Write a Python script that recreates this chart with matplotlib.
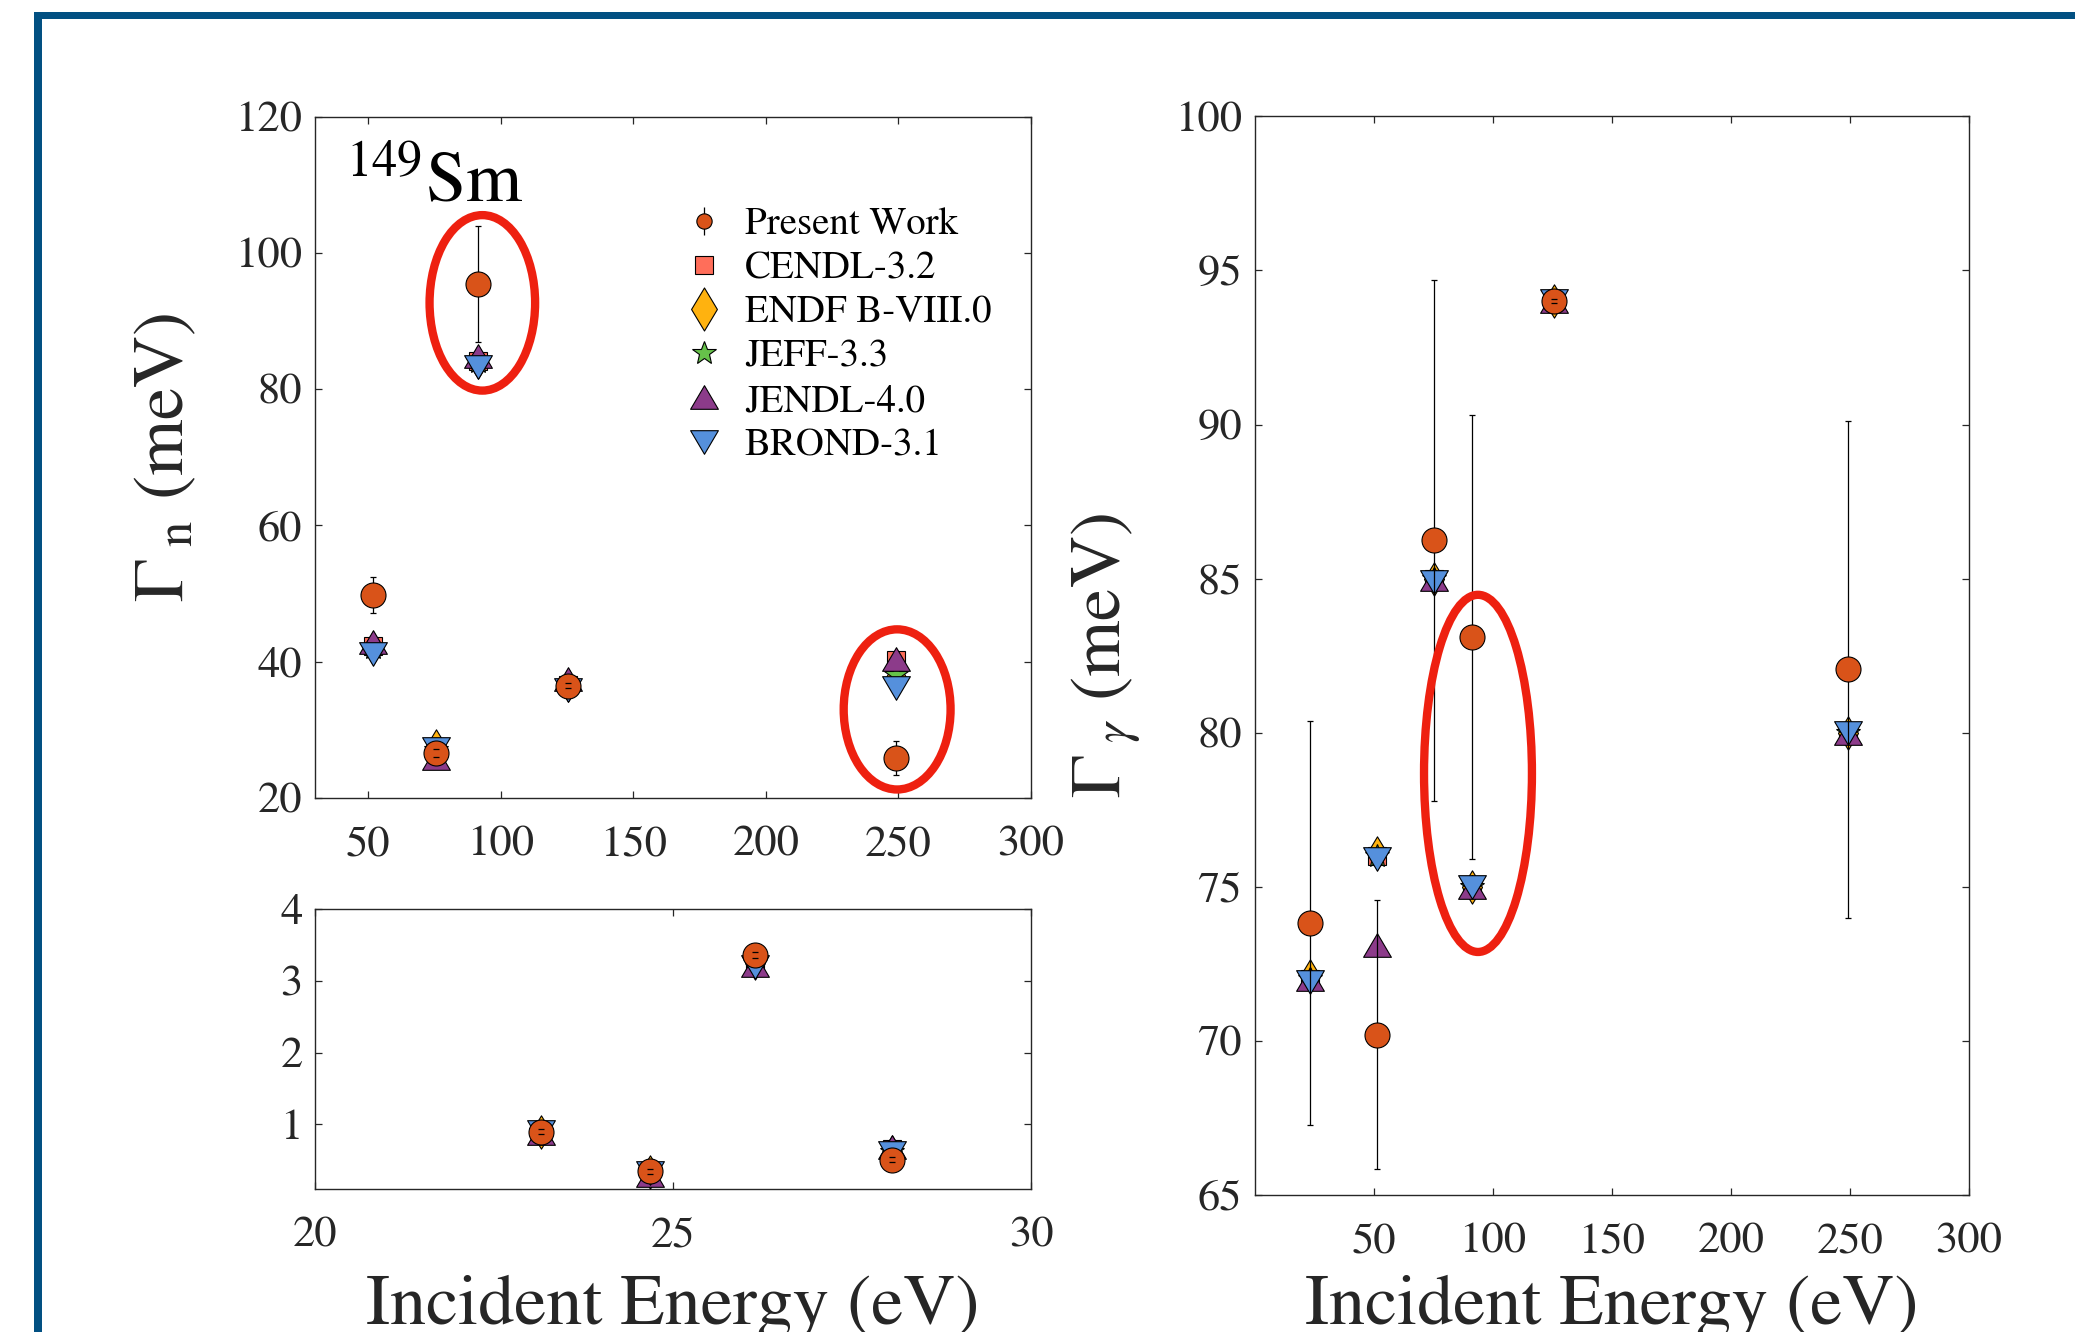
import matplotlib
matplotlib.use('Agg')
import matplotlib.pyplot as plt
from matplotlib.path import Path
from matplotlib.lines import Line2D
from matplotlib.patches import Ellipse, Rectangle

plt.rcParams['font.family'] = 'STIXGeneral'
plt.rcParams['mathtext.fontset'] = 'stix'

# ---- data: neutron widths, resonances above 50 eV (top left)
e_hi = [51.8, 75.8, 91.5, 125.4, 249.2]
gn_pw = [49.8, 26.55, 95.45, 36.5, 25.9]
gn_pw_err = [2.65, 0.6, 8.5, 0.4, 2.5]
gn_cendl = [42.3, 26.6, 84.2, 36.6, 40.3]
gn_endf = [42.0, 27.6, 84.0, 36.6, 37.8]
gn_jeff = [42.0, 27.1, 84.0, 36.6, 38.0]
gn_jendl = [42.9, 25.9, 84.8, 37.4, 40.4]
gn_brond = [41.2, 27.2, 83.3, 35.9, 36.2]

# ---- neutron widths, resonances 20-30 eV (bottom left)
e_lo = [23.16, 24.68, 26.15, 28.06]
gl_pw = [0.90, 0.345, 3.36, 0.51]
gl_pw_err = [0.03, 0.03, 0.04, 0.03]
gl_cendl = [0.89, 0.32, 3.26, 0.66]
gl_endf = [0.89, 0.33, 3.25, 0.62]
gl_jeff = [0.89, 0.33, 3.25, 0.62]
gl_jendl = [0.88, 0.30, 3.22, 0.69]
gl_brond = [0.90, 0.32, 3.20, 0.60]

# ---- radiation widths (right)
e_g = [23.1, 51.6, 75.4, 91.2, 125.6, 249.3]
gg_pw = [73.83, 70.2, 86.24, 83.1, 94.02, 82.06]
gg_pw_err = [6.56, 4.37, 8.44, 7.2, 0.07, 8.06]
gg_cendl = [72.0, 76.0, 85.0, 75.0, 94.0, 80.0]
gg_endf = [72.1, 76.1, 85.0, 75.0, 94.0, 80.0]
gg_jeff = [72.0, 76.0, 85.0, 75.0, 94.0, 80.0]
gg_jendl = [72.0, 73.1, 85.0, 75.0, 94.0, 80.0]
gg_brond = [71.9, 75.9, 84.9, 75.0, 94.0, 80.0]

labels = ['Present Work', 'CENDL-3.2', 'ENDF B-VIII.0', 'JEFF-3.3', 'JENDL-4.0', 'BROND-3.1']

# highlighted points (centre x, centre y, width, height) in data units
ring_hi = [(93.1, 92.66, 39.8, 25.75), (249.5, 33.0, 40.3, 23.5)]
ring_g = [(93.8, 78.68, 45.3, 11.59)]

c_pw = '#D95319'
c_cendl = '#FF6E5A'
c_endf = '#FFB20F'
c_jeff = '#66C24A'
c_jendl = '#8C3B8A'
c_brond = '#5590DC'
c_ring = '#EE2010'
c_txt = '#262626'


def closed(v):
    return Path(v + [v[0]], closed=True)


tri_up = closed([(0, 0.85), (-1, -0.85), (1, -0.85)])
tri_dn = closed([(0, -0.85), (-1, 0.85), (1, 0.85)])
diam = closed([(0, 1), (0.6, 0), (0, -1), (-0.6, 0)])

libs = [('s', c_cendl, 13.5), (diam, c_endf, 24), ('*', c_jeff, 18),
        (tri_up, c_jendl, 20), (tri_dn, c_brond, 20)]


def draw(ax, x, pw, err, lib_vals):
    for (m, c, ms), vals in zip(libs, lib_vals):
        ax.plot(x, vals, ls='none', marker=m, ms=ms, mfc=c, mec='k', mew=0.8, zorder=3)
    eb = ax.errorbar(x, pw, yerr=err, fmt='none', ecolor='k', elinewidth=0.9,
                     capsize=2.5, capthick=0.9, zorder=4)
    ax.plot(x, pw, ls='none', marker='o', ms=18, mfc=c_pw, mec='k', mew=0.8, zorder=5)
    for cl in eb[1]:
        cl.set_zorder(6)


def style(ax):
    ax.tick_params(direction='in', length=5, width=0.9, top=True, right=True,
                   labelsize=32, colors=c_txt)
    ax.tick_params(axis='x', pad=20)
    ax.tick_params(axis='y', pad=9)
    for s in ax.spines.values():
        s.set_linewidth(1.0)
        s.set_color(c_txt)


fig = plt.figure(figsize=(20.75, 13.32), dpi=100)

# slide frame
fig.add_artist(Rectangle((34 / 2075, 0), 8 / 2075, 1 - 12 / 1332, transform=fig.transFigure,
                         color='#025082', lw=0))
fig.add_artist(Rectangle((34 / 2075, 1 - 19 / 1332), 1, 7 / 1332, transform=fig.transFigure,
                         color='#025082', lw=0))

ax1 = fig.add_axes([0.1518, 0.4009, 0.3451, 0.5116])
ax2 = fig.add_axes([0.1518, 0.1074, 0.3451, 0.2100])
ax3 = fig.add_axes([0.6046, 0.1029, 0.3444, 0.8097])

draw(ax1, e_hi, gn_pw, gn_pw_err, [gn_cendl, gn_endf, gn_jeff, gn_jendl, gn_brond])
draw(ax2, e_lo, gl_pw, gl_pw_err, [gl_cendl, gl_endf, gl_jeff, gl_jendl, gl_brond])
draw(ax3, e_g, gg_pw, gg_pw_err, [gg_cendl, gg_endf, gg_jeff, gg_jendl, gg_brond])

ax1.set_xlim(30, 300)
ax1.set_ylim(20, 120)
ax1.set_xticks([50, 100, 150, 200, 250, 300])
ax1.set_yticks([20, 40, 60, 80, 100, 120])

ax2.set_xlim(20, 30)
ax2.set_ylim(0.1, 4)
ax2.set_xticks([20, 25, 30])
ax2.set_yticks([1, 2, 3, 4])

ax3.set_xlim(0, 300)
ax3.set_ylim(65, 100)
ax3.set_xticks([50, 100, 150, 200, 250, 300])
ax3.set_yticks([65, 70, 75, 80, 85, 90, 95, 100])

for ax in (ax1, ax2, ax3):
    style(ax)

ax1.set_ylabel(r'$\Gamma_{\ \mathrm{n}}$ (meV)', fontsize=52, color=c_txt, labelpad=26)
ax3.set_ylabel(r'$\Gamma_{\ \gamma}$ (meV)', fontsize=52, color=c_txt, labelpad=22)
ax2.set_xlabel('Incident Energy (eV)', fontsize=52, color=c_txt, va='baseline')
ax2.xaxis.set_label_coords(0.5, -0.483)
ax3.set_xlabel('Incident Energy (eV)', fontsize=52, color=c_txt, va='baseline')
ax3.xaxis.set_label_coords(0.5, -0.1196)

ax1.text(0.042, 0.8746, r'$^{149}$Sm', transform=ax1.transAxes, fontsize=52,
         va='baseline', ha='left', color='k')

for cx, cy, w, h in ring_hi:
    ax1.add_patch(Ellipse((cx, cy), w, h, fill=False, ec=c_ring, lw=6, clip_on=False, zorder=8))
for cx, cy, w, h in ring_g:
    ax3.add_patch(Ellipse((cx, cy), w, h, fill=False, ec=c_ring, lw=6, clip_on=False, zorder=8))

# legend proxies (legend markers are drawn at their own sizes)
handles = [
    (Line2D([], [], ls='none', marker='|', ms=20, mew=0.9, color='k'),
     Line2D([], [], ls='none', marker='o', ms=11, mfc=c_pw, mec='k', mew=0.8)),
    Line2D([], [], ls='none', marker='s', ms=13.5, mfc=c_cendl, mec='k', mew=0.8),
    Line2D([], [], ls='none', marker=diam, ms=31, mfc=c_endf, mec='k', mew=0.8),
    Line2D([], [], ls='none', marker='*', ms=18, mfc=c_jeff, mec='k', mew=0.8),
    Line2D([], [], ls='none', marker=tri_up, ms=20, mfc=c_jendl, mec='k', mew=0.8),
    Line2D([], [], ls='none', marker=tri_dn, ms=20, mfc=c_brond, mec='k', mew=0.8),
]
ax1.legend(handles, labels, loc='upper left', bbox_to_anchor=(0.516, 0.867),
           frameon=False, fontsize=28, handlelength=1.0, handletextpad=0.55,
           labelspacing=0.23, borderpad=0, borderaxespad=0)

fig.savefig('out.png', dpi=100)
